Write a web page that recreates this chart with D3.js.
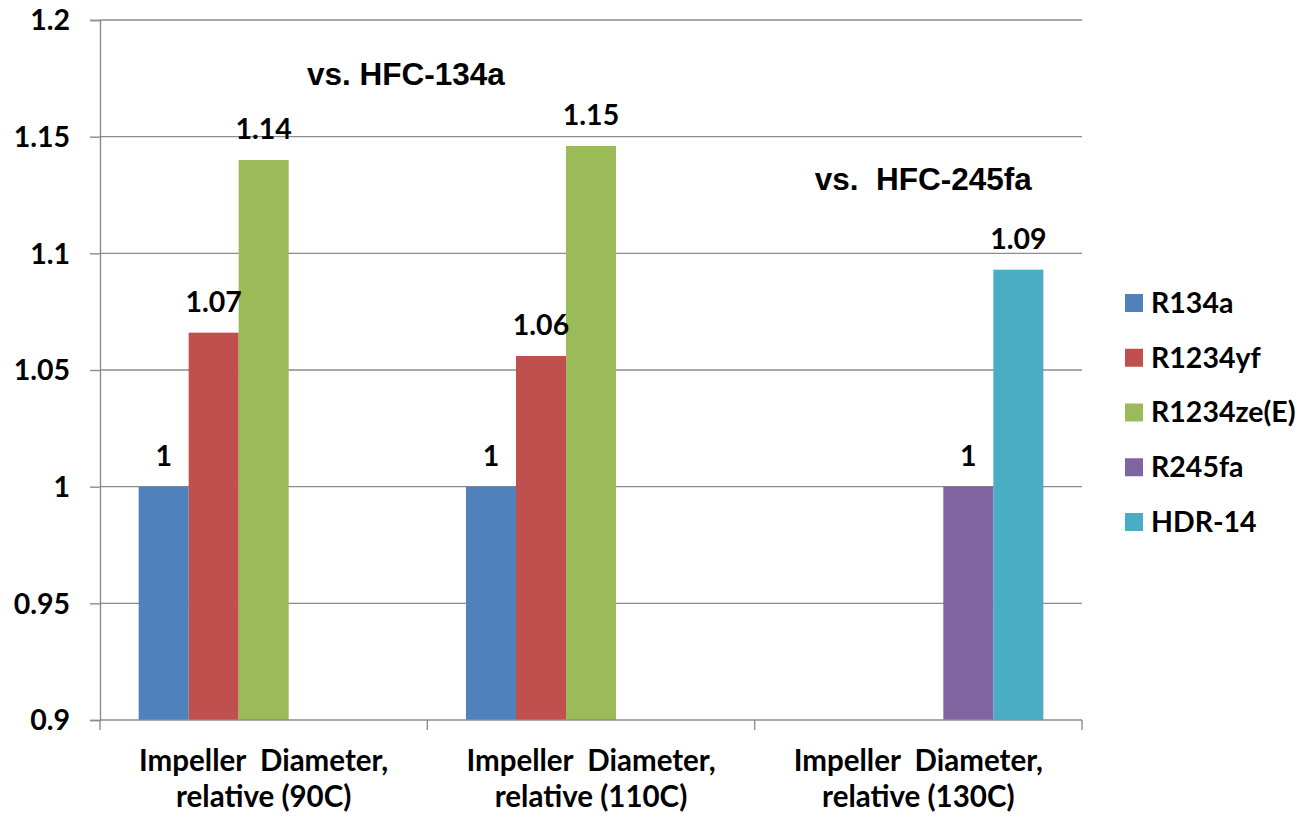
<!DOCTYPE html>
<html>
<head>
<meta charset="utf-8">
<script src="https://cdn.jsdelivr.net/npm/d3@7"></script>
<style>
  body { margin: 0; background: #fff; }
  text { font-family: Lato, "Open Sans", sans-serif; font-weight: bold; fill: #000; }
  .note { font-family: "Liberation Sans", Arial, sans-serif; }
</style>
</head>
<body>
<div class="canvas"></div>
<script>
// data
const categories = [
  ['Impeller  Diameter,', 'relative (90C)'],
  ['Impeller  Diameter,', 'relative (110C)'],
  ['Impeller  Diameter,', 'relative (130C)']
];
const seriesNames = ['R134a', 'R1234yf', 'R1234ze(E)', 'R245fa', 'HDR-14'];
const seriesColors = ['#4f81bd', '#c0504d', '#9bbb59', '#8064a2', '#4bacc6'];
const r134a = [1, 1, null];
const r1234yf = [1.066, 1.056, null];
const r1234ze = [1.14, 1.146, null];
const r245fa = [null, null, 1];
const hdr14 = [null, null, 1.093];
const yTicks = [0.9, 0.95, 1, 1.05, 1.1, 1.15, 1.2];
const notes = [
  { text: 'vs. HFC-134a', cat: 0, dx: 207, y: 85 },
  { text: 'vs.  HFC-245fa', cat: 2, dx: 60, y: 190 }
];

const seriesValues = [r134a, r1234yf, r1234ze, r245fa, hdr14];

const W = 1299, H = 817;
const plotL = 100, plotR = 1082, plotT = 20, plotB = 720;
const numSize = 28.5;

const svg = d3.select('.canvas')
  .append('svg')
  .attr('width', W)
  .attr('height', H);

const catIdx = categories.map((c, i) => i);

const x0 = d3.scaleBand()
  .domain(catIdx)
  .range([plotL, plotR])
  .paddingInner(0)
  .paddingOuter(0);

const x1 = d3.scaleBand()
  .domain(seriesNames)
  .range([0, x0.bandwidth()])
  .paddingInner(0)
  .paddingOuter(0.773);

const y = d3.scaleLinear()
  .domain([0.9, 1.2])
  .range([plotB, plotT]);

const fmt = d3.format('.3~r');

// gridlines
svg.append('g')
  .selectAll('line')
  .data(yTicks.slice(1))
  .join('line')
  .attr('x1', plotL)
  .attr('x2', plotR)
  .attr('y1', d => y(d))
  .attr('y2', d => y(d))
  .attr('stroke', '#8c8c8c')
  .attr('stroke-width', 1.4);

// bars
const groups = svg.append('g')
  .selectAll('g')
  .data(seriesNames)
  .join('g')
  .attr('fill', (d, i) => seriesColors[i]);

groups.each(function (name, si) {
  const pts = seriesValues[si]
    .map((v, ci) => ({ v, ci }))
    .filter(d => d.v != null);

  d3.select(this).selectAll('rect')
    .data(pts)
    .join('rect')
    .attr('x', d => x0(d.ci) + x1(name))
    .attr('width', x1.bandwidth())
    .attr('y', d => y(d.v))
    .attr('height', d => y(0.9) - y(d.v));

  svg.append('g')
    .selectAll('text')
    .data(pts)
    .join('text')
    .attr('x', d => x0(d.ci) + x1(name) + x1.bandwidth() / 2)
    .attr('y', d => y(d.v) - 21)
    .attr('text-anchor', 'middle')
    .attr('font-size', numSize)
    .text(d => fmt(d.v));
});

// y axis
const yAxis = svg.append('g')
  .attr('transform', `translate(${plotL},0)`)
  .call(d3.axisLeft(y).tickValues(yTicks).tickSize(10).tickPadding(20).tickFormat(d => fmt(d)));
yAxis.select('.domain').attr('stroke', '#8c8c8c').attr('stroke-width', 1.4);
yAxis.selectAll('.tick line').attr('stroke', '#8c8c8c').attr('stroke-width', 1.4);
yAxis.selectAll('.tick text')
  .attr('font-size', numSize)
  .attr('font-family', null)
  .attr('dy', '0.35em');

// x axis
const boundaries = catIdx.map(i => x0(i)).concat([plotR]);
svg.append('line')
  .attr('x1', plotL).attr('x2', plotR)
  .attr('y1', plotB).attr('y2', plotB)
  .attr('stroke', '#8c8c8c').attr('stroke-width', 1.4);
svg.append('g')
  .selectAll('line')
  .data(boundaries)
  .join('line')
  .attr('x1', d => d).attr('x2', d => d)
  .attr('y1', plotB).attr('y2', plotB + 10)
  .attr('stroke', '#8c8c8c').attr('stroke-width', 1.4);

const catLabels = svg.append('g')
  .selectAll('text')
  .data(categories)
  .join('text')
  .attr('text-anchor', 'middle')
  .attr('font-size', 29.5)
  .style('white-space', 'pre');
catLabels.each(function (lines, i) {
  d3.select(this).selectAll('tspan')
    .data(lines)
    .join('tspan')
    .attr('x', x0(i) + x0.bandwidth() / 2)
    .attr('y', (d, j) => 771 + j * 36)
    .text(d => d);
});

// notes
svg.append('g')
  .selectAll('text')
  .data(notes)
  .join('text')
  .attr('class', 'note')
  .attr('x', d => x0(d.cat) + d.dx)
  .attr('y', d => d.y)
  .attr('font-size', 31.5)
  .style('white-space', 'pre')
  .text(d => d.text);

// legend
const legend = svg.append('g')
  .attr('transform', 'translate(1125,303)')
  .selectAll('g')
  .data(seriesNames)
  .join('g')
  .attr('transform', (d, i) => `translate(0,${i * 54.75})`);
legend.append('rect')
  .attr('x', 0).attr('y', -9)
  .attr('width', 18).attr('height', 18)
  .attr('fill', (d, i) => seriesColors[i]);
legend.append('text')
  .attr('x', 26)
  .attr('dy', '0.35em')
  .attr('font-size', numSize)
  .text(d => d);
</script>
</body>
</html>
